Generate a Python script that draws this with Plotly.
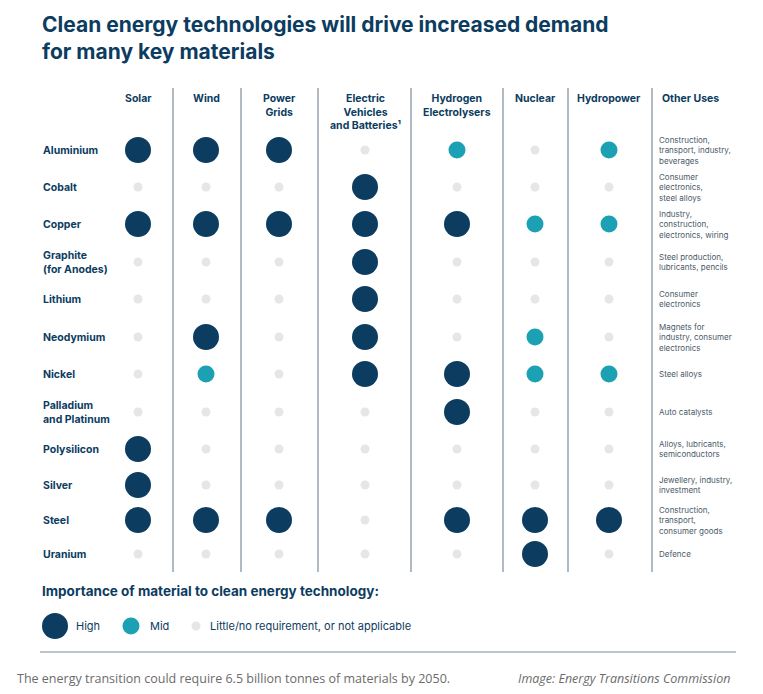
import plotly.graph_objects as go

technologies = ["Solar", "Wind", "Power<br>Grids", "Electric<br>Vehicles<br>and Batteries¹",
                "Hydrogen<br>Electrolysers", "Nuclear", "Hydropower"]
materials = ["Aluminium", "Cobalt", "Copper", "Graphite<br>(for Anodes)", "Lithium", "Neodymium",
             "Nickel", "Palladium<br>and Platinum", "Polysilicon", "Silver", "Steel", "Uranium"]
other_uses = ["Construction,<br>transport, industry,<br>beverages",
              "Consumer<br>electronics,<br>steel alloys",
              "Industry,<br>construction,<br>electronics, wiring",
              "Steel production,<br>lubricants, pencils",
              "Consumer<br>electronics",
              "Magnets for<br>industry, consumer<br>electronics",
              "Steel alloys", "Auto catalysts",
              "Alloys, lubricants,<br>semiconductors",
              "Jewellery, industry,<br>investment",
              "Construction,<br>transport,<br>consumer goods",
              "Defence"]
# importance: 2 = high, 1 = mid, 0 = little/none  (rows = materials, cols = technologies)
importance = [
    [2, 2, 2, 0, 1, 0, 1],
    [0, 0, 0, 2, 0, 0, 0],
    [2, 2, 2, 2, 2, 1, 1],
    [0, 0, 0, 2, 0, 0, 0],
    [0, 0, 0, 2, 0, 0, 0],
    [0, 2, 0, 2, 0, 1, 0],
    [0, 1, 0, 2, 2, 1, 1],
    [0, 0, 0, 0, 2, 0, 0],
    [2, 0, 0, 0, 0, 0, 0],
    [2, 0, 0, 0, 0, 0, 0],
    [2, 2, 2, 0, 2, 2, 2],
    [0, 0, 0, 0, 0, 2, 0],
]

# layout positions (pixels)
col_x = [138, 206, 279, 365, 457, 535, 609]
row_y = [150, 187, 224, 262, 299, 337, 374, 412, 449, 485, 520, 554]
sep_x = [173, 241, 318, 411, 503, 568, 652]
NAVY, TEAL, GRAY = "#0c3c5f", "#1ba1b3", "#e4e6e8"
style = {2: (NAVY, 26), 1: (TEAL, 17), 0: (GRAY, 9)}
FONT = "Inter"

fig = go.Figure()
for lvl in (0, 1, 2):
    xs, ys = [], []
    for i, row in enumerate(importance):
        for j, v in enumerate(row):
            if v == lvl:
                xs.append(col_x[j]); ys.append(row_y[i])
    c, s = style[lvl]
    fig.add_trace(go.Scatter(x=xs, y=ys, mode="markers", hoverinfo="skip",
                             marker=dict(color=c, size=s, opacity=1, line=dict(width=0))))
# legend markers
fig.add_trace(go.Scatter(x=[55, 131, 196], y=[626, 626, 626], mode="markers", hoverinfo="skip",
                         marker=dict(color=[NAVY, TEAL, GRAY], size=[26, 17, 9], opacity=1,
                                     line=dict(width=0))))

ann = []
for x, t in zip(col_x, technologies):
    ann.append(dict(x=x, y=90, text=t, xanchor="center", yanchor="top",
                    font=dict(size=10.5, color=NAVY, family=FONT, weight="bold")))
ann.append(dict(x=660, y=90, text="Other Uses", xanchor="left", yanchor="top",
                font=dict(size=10.5, color=NAVY, family=FONT, weight="bold")))
for y, m, o in zip(row_y, materials, other_uses):
    ann.append(dict(x=41, y=y, text=m, xanchor="left", yanchor="middle", align="left",
                    font=dict(size=10.5, color=NAVY, family=FONT, weight="bold")))
    ann.append(dict(x=657, y=y, text=o, xanchor="left", yanchor="middle", align="left",
                    font=dict(size=8, color="#4a5a68", family=FONT)))
ann += [
    dict(x=40, y=10, text="Clean energy technologies will drive increased demand<br>for many key materials",
         xanchor="left", yanchor="top", align="left",
         font=dict(size=21, color=NAVY, family=FONT, weight="bold")),
    dict(x=40, y=591, text="Importance of material to clean energy technology:", xanchor="left",
         yanchor="middle", font=dict(size=13.5, color=NAVY, family=FONT, weight="bold")),
    dict(x=74, y=626, text="High", xanchor="left", yanchor="middle", font=dict(size=11, color=NAVY, family=FONT)),
    dict(x=148, y=626, text="Mid", xanchor="left", yanchor="middle", font=dict(size=11, color=NAVY, family=FONT)),
    dict(x=208, y=626, text="Little/no requirement, or not applicable", xanchor="left", yanchor="middle",
         font=dict(size=11, color=NAVY, family=FONT)),
    dict(x=15, y=678, text="The energy transition could require 6.5 billion tonnes of materials by 2050.",
         xanchor="left", yanchor="middle", font=dict(size=12.5, color="#6b6b6b", family="Open Sans")),
    dict(x=516, y=678, text="<i>Image: Energy Transitions Commission</i>", xanchor="left", yanchor="middle",
         font=dict(size=12.5, color="#6b6b6b", family="Open Sans")),
]
for a in ann:
    a.update(showarrow=False, xref="x", yref="y")

shapes = [dict(type="line", x0=x, x1=x, y0=88, y1=572, xref="x", yref="y",
               line=dict(color="#7c8c99", width=1.2)) for x in sep_x]
shapes.append(dict(type="line", x0=40, x1=736, y0=652, y1=652, xref="x", yref="y",
                   line=dict(color="#7c8c99", width=1)))

# page body has an 8px margin, so the visible area starts at (8, 8)
fig.update_layout(width=763, height=694, margin=dict(l=0, r=0, t=0, b=0),
                  plot_bgcolor="white", paper_bgcolor="white", showlegend=False,
                  annotations=ann, shapes=shapes,
                  xaxis=dict(range=[8, 771], visible=False, fixedrange=True),
                  yaxis=dict(range=[702, 8], visible=False, fixedrange=True))
fig.write_html("out.html")
